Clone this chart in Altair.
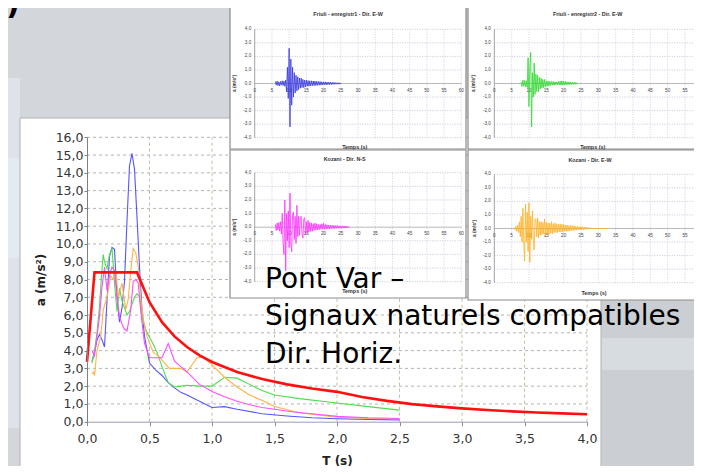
import altair as alt
import pandas as pd

# ---------------- data: response spectra (T in s, a in m/s2) ----------------
DESIGN_T = [0.0, 0.06, 0.40, 0.50, 0.60, 0.70, 0.80, 0.90, 1.00, 1.20, 1.40, 1.60, 1.80, 2.00,
            2.20, 2.40, 2.60, 2.80, 3.00, 3.20, 3.40, 3.60, 3.80, 4.00]
DESIGN_A = [3.36, 8.40, 8.40, 6.72, 5.60, 4.80, 4.20, 3.73, 3.36, 2.80, 2.40, 2.10, 1.87, 1.68,
            1.39, 1.17, 0.99, 0.86, 0.75, 0.66, 0.58, 0.52, 0.47, 0.42]

BLUE_T = [0.04, 0.06, 0.08, 0.10, 0.12, 0.14, 0.16, 0.18, 0.20, 0.22, 0.24, 0.26, 0.28, 0.30,
          0.32, 0.34, 0.36, 0.38, 0.40, 0.42, 0.44, 0.46, 0.50, 0.55, 0.60, 0.65, 0.70, 0.75,
          0.80, 0.90, 1.00, 1.10, 1.20, 1.40, 1.60, 1.80, 2.00, 2.25, 2.50]
BLUE_A = [3.4, 3.9, 4.6, 4.9, 4.6, 4.2, 6.8, 9.3, 9.8, 9.7, 7.0, 5.6, 6.4, 7.9,
          11.3, 14.4, 15.1, 14.2, 11.5, 8.7, 6.3, 4.8, 3.3, 2.9, 2.6, 2.2, 1.9, 1.65,
          1.5, 1.15, 0.8, 0.85, 0.7, 0.45, 0.32, 0.22, 0.17, 0.13, 0.1]

GREEN_T = [0.04, 0.06, 0.08, 0.10, 0.12, 0.13, 0.14, 0.16, 0.18, 0.20, 0.22, 0.24, 0.26, 0.28,
           0.30, 0.32, 0.34, 0.36, 0.38, 0.40, 0.42, 0.45, 0.48, 0.52, 0.56, 0.60, 0.65, 0.70,
           0.75, 0.80, 0.90, 1.00, 1.10, 1.20, 1.30, 1.40, 1.50, 1.70, 2.00, 2.25, 2.50]
GREEN_A = [3.3, 4.0, 5.0, 6.5, 8.6, 9.4, 9.0, 8.6, 9.4, 9.75, 7.8, 6.2, 7.5, 6.8,
           6.4, 6.0, 6.2, 6.6, 7.0, 7.2, 7.0, 5.6, 5.0, 4.5, 3.9, 3.1, 2.2, 1.95,
           2.0, 2.05, 2.0, 2.0, 2.5, 2.45, 2.1, 1.75, 1.5, 1.3, 1.05, 0.85, 0.65]

ORANGE_T = [0.04, 0.05, 0.06, 0.08, 0.11, 0.13, 0.16, 0.19, 0.21, 0.23, 0.25, 0.28, 0.31, 0.33,
            0.35, 0.37, 0.39, 0.41, 0.43, 0.45, 0.48, 0.53, 0.58, 0.62, 0.66, 0.70, 0.75, 0.80,
            0.85, 0.88, 0.93, 1.00, 1.10, 1.20, 1.30, 1.40, 1.50, 1.70, 2.00, 2.25, 2.50]
ORANGE_A = [2.7, 2.8, 2.6, 4.0, 4.8, 6.3, 7.0, 8.2, 8.0, 8.5, 7.0, 7.8, 6.3, 6.9,
            8.5, 9.75, 9.5, 8.7, 7.0, 5.8, 4.8, 3.9, 3.65, 3.3, 3.0, 3.0, 3.0, 2.8,
            3.3, 3.6, 3.65, 3.2, 2.5, 1.95, 1.5, 1.2, 0.85, 0.5, 0.25, 0.18, 0.15]

MAGENTA_T = [0.04, 0.06, 0.08, 0.10, 0.12, 0.14, 0.16, 0.18, 0.20, 0.22, 0.24, 0.26, 0.28, 0.30,
             0.32, 0.35, 0.37, 0.39, 0.41, 0.43, 0.46, 0.50, 0.55, 0.60, 0.65, 0.70, 0.75, 0.80,
             0.90, 1.00, 1.10, 1.20, 1.30, 1.40, 1.50, 1.65, 1.80, 2.00, 2.25, 2.50]
MAGENTA_A = [4.0, 3.7, 4.8, 5.9, 7.6, 8.7, 7.4, 8.2, 8.7, 8.5, 7.0, 5.9, 5.5, 5.2,
             5.1, 6.3, 7.9, 8.0, 7.8, 6.2, 4.4, 3.6, 3.6, 3.6, 4.4, 3.4, 3.1, 2.8,
             2.1, 1.7, 1.4, 1.15, 0.95, 0.8, 0.7, 0.55, 0.45, 0.3, 0.22, 0.18]

MAIN_X_TICKS = [0.0, 0.5, 1.0, 1.5, 2.0, 2.5, 3.0, 3.5, 4.0]
MAIN_Y_TICKS = [0, 1, 2, 3, 4, 5, 6, 7, 8, 9, 10, 11, 12, 13, 14, 15, 16]

# ---------------- data: accelerograms (a in m/s2, sampled every 0.25 s) ----------------
SIGNAL_DT = 0.25
FRIULI1_START = 6.0
FRIULI1_A = [0.15, -0.12, 0.18, -0.15, 0.12, -0.18, 0.15, -0.10, 0.20, -0.15, 0.18, -0.20, 0.25,
             -0.60, 1.20, -1.10, 2.60, -3.20, 1.80, -1.60, 1.20, -1.00, 0.80, -0.70, 0.60, -0.55,
             0.50, -0.45, 0.40, -0.35, 0.40, -0.30, 0.30, -0.30, 0.25, -0.25, 0.25, -0.20, 0.22, -0.20,
             0.20, -0.18, 0.20, -0.16, 0.18, -0.15, 0.18, -0.15, 0.16, -0.14, 0.15, -0.12, 0.14, -0.12,
             0.12, -0.10, 0.12, -0.10, 0.12, -0.10, 0.10, -0.08, 0.10, -0.08, 0.10, -0.08, 0.08, -0.06,
             0.08, -0.06, 0.06, -0.05, 0.06, -0.05, 0.05, -0.04, 0.04]
FRIULI2_START = 7.75
FRIULI2_A = [0.10, -0.22, 0.25, -0.20, 0.22, -0.25, 0.20, -0.30,
             1.90, -1.70, 1.20, 2.30, -3.20, 0.80, -1.00, 1.50, -0.80, 0.70, -0.60, 0.60, -0.60,
             0.45, -0.40, 0.40, -0.35, 0.30, -0.30, 0.30, -0.25, 0.20, -0.20, 0.18, -0.18,
             0.15, -0.15, 0.15, -0.12, 0.15, -0.12, 0.12, -0.10, 0.12, -0.10, 0.15, -0.10, 0.18, -0.12,
             0.20, -0.12, 0.18, -0.10, 0.15, -0.10, 0.12, -0.08, 0.12, -0.08, 0.10, -0.08, 0.10, -0.06,
             0.08, -0.06, 0.08, -0.05, 0.05]
KOZANI_NS_START = 6.0
KOZANI_NS_A = [0.20, -0.25, 0.30, -0.20, 0.35, -0.30, 0.40, -0.50, 1.00,
               -1.20, -2.00, 2.00, -3.20, 1.00, -1.00, 1.20, -1.50, 2.50, -1.20, -1.80, 0.90, 1.10,
               -0.90, 0.80, -1.20, 1.60, -0.70, 0.80, -0.60, 0.70, 0.80, -0.50, -0.80, 0.60, 0.70,
               -0.50, 0.40, -0.45, 0.50, -0.35,
               0.35, -0.30, 0.30, -0.30, 0.25, -0.25, 0.30, -0.20, 0.25, -0.20, 0.20, -0.18, 0.20,
               -0.15, 0.25, -0.15,
               0.30, -0.15, 0.20, -0.15, 0.18, -0.12, 0.15, -0.12, 0.15, -0.10, 0.15, -0.10, 0.12,
               -0.10, 0.12, -0.08, 0.12, -0.08, 0.10, -0.08, 0.10, -0.08, 0.10, -0.06, 0.08, -0.06,
               0.08, -0.05, 0.06, -0.05, 0.05]
KOZANI_EW_START = 5.75
KOZANI_EW_A = [0.05, -0.10, 0.15, -0.20, 0.25, -0.30, 0.50, -0.60, 0.90,
               -1.00, 1.50, -1.20, -2.40, 1.80, -1.00, 1.20, -1.70, 1.90, -2.50, 0.90, -0.80, 1.30,
               -0.90, -1.60, 0.70, 0.70, -0.60, 0.80, -0.70, 0.50, -0.50, 0.50, -0.45, 0.45, -0.40,
               0.70, -0.50, 0.45, -0.40, 0.40, -0.45,
               0.40, -0.35, 0.50, -0.40, 0.35, -0.30, 0.40, -0.30, 0.35, -0.30, 0.30, -0.25, 0.35,
               -0.25, 0.30, -0.25,
               0.30, -0.20, 0.25, -0.20, 0.25, -0.20, 0.20, -0.18, 0.25, -0.15, 0.20, -0.15, 0.20,
               -0.12, 0.15, -0.12, 0.15, -0.10, 0.12, -0.10, 0.15, -0.08, 0.12, -0.08, 0.10, -0.06,
               0.10, -0.06, 0.08, -0.05, 0.06, -0.04, 0.03,
               0, 0, 0, 0, 0, 0, 0, 0, 0, 0, 0, 0, 0, 0, 0, 0, 0, 0, 0, 0]

INSET_X_TICKS = [0, 5, 10, 15, 20, 25, 30, 35, 40, 45, 50, 55, 60]
INSET_Y_TICKS = [-4, -3, -2, -1, 0, 1, 2, 3, 4]

TEXT_LINES = ["Pont Var \u2013", "Signaux naturels compatibles", "Dir. Horiz."]

# ---------------- layout / style ----------------
W, H = 686, 458
FONT = "DejaVu Sans"
SMALL_FONT = "Liberation Sans"
LBL = "replace(format(datum.value, '.1f'), '.', ',')"


def one():
    return alt.Chart(pd.DataFrame({"k": [0]}))


def box(x0, x1, y0, y1, fill, stroke=None, sw=1.0, opacity=1.0):
    kw = dict(fill=fill, opacity=opacity)
    if stroke:
        kw.update(stroke=stroke, strokeWidth=sw)
    else:
        kw.update(strokeWidth=0)
    return one().mark_rect(**kw).encode(
        x=alt.value(x0), x2=alt.value(x1), y=alt.value(y0), y2=alt.value(y1))


# ---- main spectrum chart ----
mx = alt.Scale(domain=[0, 4], range=[79, 579], nice=False, zero=False)
my = alt.Scale(domain=[0, 16], range=[413.7, 129.3], nice=False, zero=False)
x_axis = alt.Axis(values=MAIN_X_TICKS, labelExpr=LBL, offset=-(H - 413.7), grid=False,
                  domainColor="#9a9ab4", tickColor="#8a8a8a", tickSize=4,
                  labelFont=FONT, labelFontSize=12.5, labelColor="#333333", labelPadding=7,
                  labelFlush=False, labelOverlap=False, titleFont=FONT, titleFontSize=12,
                  titleFontWeight="bold", titleColor="#222222", titlePadding=10, zindex=1)
y_axis = alt.Axis(values=MAIN_Y_TICKS, labelExpr=LBL, offset=-79, grid=False,
                  domainColor="#808080", tickColor="#808080", tickSize=3,
                  labelFont=FONT, labelFontSize=12.5, labelColor="#333333", labelPadding=1,
                  labelOverlap=False, labelFlush=False, titleFont=FONT, titleFontSize=12,
                  titleFontWeight="bold", titleColor="#222222", titlePadding=8, zindex=1)


def MX(f):
    return alt.X(f, type="quantitative", scale=mx, axis=x_axis, title="T (s)")


def MY(f):
    return alt.Y(f, type="quantitative", scale=my, axis=y_axis, title="a (m/s\u00b2)")


hgrid_df = pd.DataFrame({"v": MAIN_Y_TICKS[1:], "x0": 0.0, "x1": 4.0})
vgrid_df = pd.DataFrame({"T": MAIN_X_TICKS[1:], "y0": 0.0, "y1": 16.0})

spec_rows = []
for name, ts, vs in [("blue", BLUE_T, BLUE_A), ("green", GREEN_T, GREEN_A),
                     ("orange", ORANGE_T, ORANGE_A), ("magenta", MAGENTA_T, MAGENTA_A)]:
    for t, v in zip(ts, vs):
        spec_rows.append({"T": t, "a": v, "s": name})
spec_df = pd.DataFrame(spec_rows)
design_df = pd.DataFrame({"T": DESIGN_T, "a": DESIGN_A})

main = alt.layer(
    alt.Chart(hgrid_df).mark_rule(color="#b4b4b4", strokeDash=[3, 3], strokeWidth=1).encode(
        x=MX("x0"), x2="x1", y=MY("v")),
    alt.Chart(vgrid_df).mark_rule(color="#c4bc9e", strokeDash=[3, 3], strokeWidth=1).encode(
        x=MX("T"), y=MY("y0"), y2="y1"),
    alt.Chart(spec_df).mark_line(strokeWidth=1.1).encode(
        x=MX("T"), y=MY("a"),
        color=alt.Color("s:N", legend=None,
                        scale=alt.Scale(domain=["blue", "green", "orange", "magenta"],
                                        range=["#5555ff", "#4fdc4f", "#ffb347", "#ff4dff"]))),
    alt.Chart(design_df).mark_line(color="#ff1010", strokeWidth=2.6).encode(
        x=MX("T"), y=MY("a")),
)


# ---- accelerogram insets ----
def inset(title, start, values, color, px, py, plot, title_xy, ytitle_x, xtitle_xy):
    x0, x1, yt, yb = plot
    sx = alt.Scale(domain=[0, 60], range=[x0, x1], nice=False, zero=False)
    sy = alt.Scale(domain=[-4, 4], range=[yb, yt], nice=False, zero=False)

    def IX(f):
        return alt.X(f, type="quantitative", scale=sx, axis=None)

    def IY(f):
        return alt.Y(f, type="quantitative", scale=sy, axis=None)

    sig = pd.DataFrame({"t": [round(start + SIGNAL_DT * i, 3) for i in range(len(values))],
                        "a": values})
    vg = pd.DataFrame({"t": INSET_X_TICKS[1:], "lo": -4.0, "hi": 4.0})
    hg = pd.DataFrame({"a": [v for v in INSET_Y_TICKS if v != 0], "t0": 0.0, "t1": 60.0})
    ylab = pd.DataFrame({"a": INSET_Y_TICKS, "t": 0.0,
                         "lab": [f"{v:.1f}".replace(".", ",") for v in INSET_Y_TICKS]})
    xlab = pd.DataFrame({"t": INSET_X_TICKS, "a": 0.0, "lab": [str(v) for v in INSET_X_TICKS]})
    zero = pd.DataFrame({"t0": [0.0], "t1": [60.0], "a": [0.0], "lo": [-4.0], "hi": [4.0]})

    return alt.layer(
        box(px[0], px[1], py[0], py[1], "white", "#8c8c8c", 1.2),
        alt.Chart(vg).mark_rule(color="#c4c4ec", strokeDash=[1, 1.5], strokeWidth=0.8).encode(
            x=IX("t"), y=IY("lo"), y2="hi"),
        alt.Chart(hg).mark_rule(color="#b8b8cc", strokeDash=[1, 1.5], strokeWidth=0.8).encode(
            x=IX("t0"), x2="t1", y=IY("a")),
        alt.Chart(zero).mark_rule(color="#a8a8a8", strokeWidth=0.8).encode(
            x=IX("t0"), x2="t1", y=IY("a")),
        alt.Chart(zero).mark_rule(color="#8a8a8a", strokeWidth=0.8).encode(
            x=IX("t0"), y=IY("lo"), y2="hi"),
        alt.Chart(ylab).mark_text(font=SMALL_FONT, fontSize=4.6, color="#444444", align="right",
                                  baseline="middle", dx=-3.5).encode(
            x=IX("t"), y=IY("a"), text="lab:N"),
        alt.Chart(xlab).mark_text(font=SMALL_FONT, fontSize=4.6, color="#444444", align="center",
                                  baseline="middle", dy=7).encode(
            x=IX("t"), y=IY("a"), text="lab:N"),
        alt.Chart(sig).mark_line(color=color, strokeWidth=0.8).encode(x=IX("t"), y=IY("a")),
        one().mark_text(font=SMALL_FONT, fontSize=5.4, fontWeight="bold", color="#333333",
                        align="center", baseline="middle").encode(
            x=alt.value(title_xy[0]), y=alt.value(title_xy[1]), text=alt.value(title)),
        one().mark_text(font=SMALL_FONT, fontSize=4.8, fontWeight="bold", color="#333333",
                        align="center", baseline="middle", angle=270).encode(
            x=alt.value(ytitle_x), y=alt.value((yt + yb) / 2), text=alt.value("a (m/s\u00b2)")),
        one().mark_text(font=SMALL_FONT, fontSize=5.4, fontWeight="bold", color="#333333",
                        align="center", baseline="middle").encode(
            x=alt.value(xtitle_xy[0]), y=alt.value(xtitle_xy[1]), text=alt.value("Temps (s)")),
    )


ins_tl = inset("Friuli - enregistr1 - Dir. E-W", FRIULI1_START, FRIULI1_A, "#3535e0",
               (222, 458), (-2, 141), (246.7, 453.3, 21.3, 129.7), (340, 6), 227, (346.7, 138.5))
ins_tr = inset("Friuli - enregistr2 - Dir. E-W", FRIULI2_START, FRIULI2_A, "#2ed82e",
               (460, 710), (-2, 141), (486.3, 694.3, 21.3, 129.7), (579.7, 6), 466.3, (584.7, 139))
ins_bl = inset("Kozani - Dir. N-S", KOZANI_NS_START, KOZANI_NS_A, "#ff30ff",
               (222, 458), (142, 290), (246.7, 453.3, 164.7, 273.7), (336.7, 151), 227, (346.7, 282.7))
ins_br = inset("Kozani - Dir. E-W", KOZANI_EW_START, KOZANI_EW_A, "#ffb020",
               (460, 710), (142, 292), (486.3, 694.3, 166.3, 274.7), (582, 152), 467, (586, 284.7))

# ---- slide decorations ----
backdrop = alt.layer(
    box(0, 12, 70, 420, "#dde3e9"),
    box(0, 12, 150, 250, "#e6ecf1", opacity=0.8),
    box(594, 686, 292, 460, "#cbcfd3"),
    box(594, 686, 330, 362, "#d9dfe4", opacity=0.8),
    box(12, 593, 110, 480, "white", "#b0b0b0", 1.0),
    one().mark_text(font=FONT, fontSize=30, fontWeight="bold", color="#000000", align="left",
                    baseline="bottom").encode(
        x=alt.value(-2), y=alt.value(12), text=alt.value(")")),
)

caption = one().mark_text(font=FONT, fontSize=28, color="#000000", align="left",
                          baseline="alphabetic", lineHeight=37.5, lineBreak="\n").encode(
    x=alt.value(257), y=alt.value(279.5), text=alt.value("\n".join(TEXT_LINES)))

chart = alt.layer(backdrop, main, ins_tl, ins_tr, ins_bl, ins_br, caption).resolve_scale(
    x="independent", y="independent", color="independent"
).properties(
    width=W, height=H, padding=0, autosize=alt.AutoSizeParams(type="none")
).configure(background="#d3d7db").configure_view(stroke=None)

chart.save("out.html", embed_options={"renderer": "svg", "actions": False})
